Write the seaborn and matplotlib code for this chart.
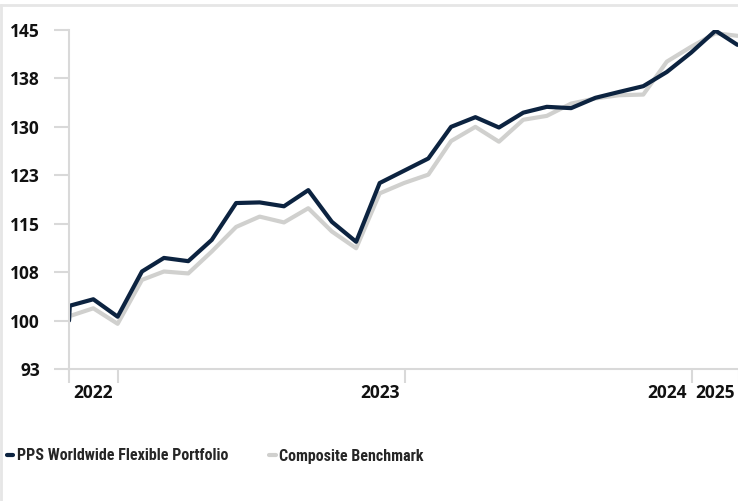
import numpy as np
import pandas as pd
import matplotlib
matplotlib.use("Agg")
import matplotlib.pyplot as plt
from matplotlib.lines import Line2D
import seaborn as sns

# month-end index values, first point is the inception day
dates = pd.to_datetime(["2022-10-30"]).append(pd.date_range("2022-10-31", periods=29, freq="ME"))
portfolio = [100, 102.3, 103.3, 100.6, 107.6, 109.7, 109.2, 112.5, 118.2, 118.3,
             117.7, 120.2, 115.3, 112.2, 121.3, 123.2, 125.1, 130.0, 131.5, 129.9,
             132.2, 133.1, 132.9, 134.5, 135.4, 136.3, 138.5, 141.5, 144.9, 142.7]
benchmark = [100, 100.7, 101.9, 99.5, 106.3, 107.6, 107.3, 110.7, 114.5, 116.1,
             115.2, 117.4, 113.8, 111.2, 119.7, 121.3, 122.6, 127.8, 130.0, 127.7,
             131.1, 131.7, 133.6, 134.4, 134.9, 135.0, 140.1, 142.4, 144.5, 144.1]
series_names = ["PPS Worldwide Flexible Portfolio", "Composite Benchmark"]
y_ticks = [92.5, 100, 107.5, 115, 122.5, 130, 137.5, 145]
y_labels = ["93", "100", "108", "115", "123", "130", "138", "145"]
year_bounds = pd.to_datetime(["2023-01-01", "2024-01-01", "2025-01-01"])
year_label_pos = pd.to_datetime(["2022-11-30", "2023-11-30", "2024-11-30", "2025-01-31"])
year_labels = ["2022", "2023", "2024", "2025"]

dark = "#0c2340"
grey = "#d0d0ce"
axis_grey = "#d9d9d9"

df = pd.DataFrame({
    "date": list(dates) * 2,
    "value": portfolio + benchmark,
    "series": [series_names[0]] * len(dates) + [series_names[1]] * len(dates),
})

sns.set_style("white")
plt.rcParams["font.family"] = ["Open Sans", "DejaVu Sans"]
plt.rcParams["font.weight"] = "bold"

fig = plt.figure(figsize=(7.38, 5.01), dpi=100)
ax = fig.add_axes([69 / 738, (501 - 369) / 501, (739 - 69) / 738, (369 - 30) / 501])

sns.lineplot(data=df, x="date", y="value", hue="series",
             hue_order=[series_names[1], series_names[0]],
             palette={series_names[0]: dark, series_names[1]: grey},
             linewidth=3, legend=False, ax=ax)

x_left = pd.Timestamp("2022-10-30")
x_right = pd.Timestamp("2025-03-02")
ax.set_xlim(x_left, x_right)
ax.set_ylim(92.5, 145)

ax.set_yticks(y_ticks)
ax.set_yticklabels(y_labels)
ax.tick_params(axis="y", left=True, length=11, width=1.5, color=axis_grey, pad=10,
               labelsize=12.5, labelcolor="#111111")

ax.set_xticks([x_left] + list(year_bounds) + [x_right])
ax.set_xticklabels([""] * (len(year_bounds) + 2))
ax.set_xticks(year_label_pos, minor=True)
ax.set_xticklabels(year_labels, minor=True)
ax.tick_params(axis="x", which="major", bottom=True, length=10, width=1.5,
               color=axis_grey)
ax.tick_params(axis="x", which="minor", bottom=True, length=0, pad=11,
               labelsize=12.5, labelcolor="#111111")
for lab in ax.get_xticklabels(minor=True) + ax.get_yticklabels():
    lab.set_fontweight("bold")

ax.set_xlabel("")
ax.set_ylabel("")
sns.despine(ax=ax, top=True, right=True)
for side in ["left", "bottom"]:
    ax.spines[side].set_color(axis_grey)
    ax.spines[side].set_linewidth(1.5)

# thin frame on the top and left of the figure
fig.add_artist(Line2D([0, 1], [0.990, 0.990], transform=fig.transFigure,
                      color="#e6e6e6", lw=2))
fig.add_artist(Line2D([0.001, 0.001], [0, 0.990], transform=fig.transFigure,
                      color="#e6e6e6", lw=2))

handles = [Line2D([], [], color=dark, lw=3), Line2D([], [], color=grey, lw=3)]
fig.legend(handles, series_names, loc="center left",
           bbox_to_anchor=(7 / 738, 1 - 456 / 501), ncol=2, frameon=False,
           handlelength=0.4, handletextpad=0.2, columnspacing=2.6,
           borderpad=0, borderaxespad=0,
           prop={"family": ["Noto Sans Condensed", "Roboto Condensed",
                            "Open Sans Condensed", "Open Sans"],
                 "weight": "bold", "size": 11.5, "stretch": "condensed"})

fig.savefig("out.png", dpi=100, facecolor="white")
